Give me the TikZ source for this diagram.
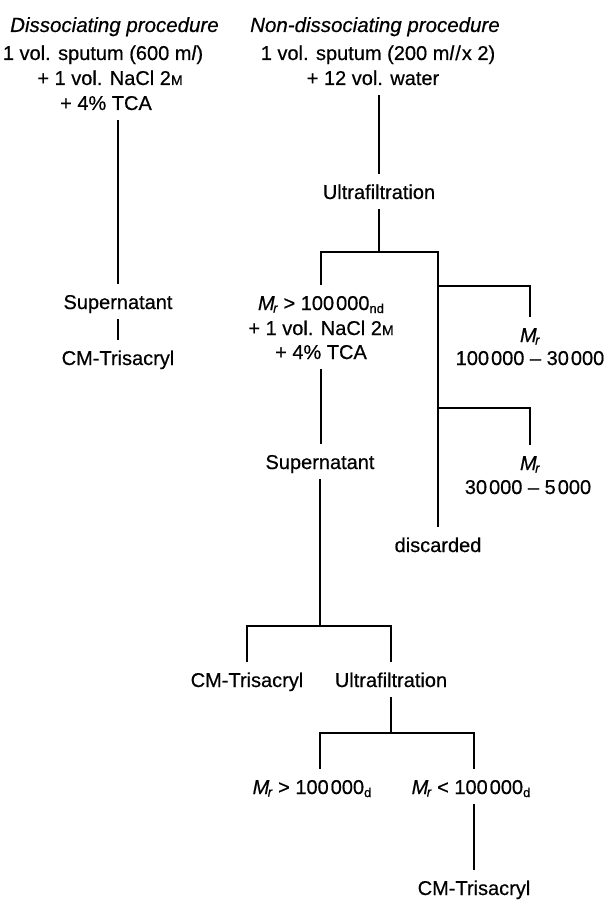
\documentclass[tikz,border=0pt]{standalone}
\usepackage{fontspec}
\setmainfont{Liberation Sans}[FakeBold=0.5]
\newcommand\Mr{\textit{M}\kern-1.5pt\raisebox{-2.5pt}{\fontsize{13}{13}\selectfont\textit{r}}}
\newcommand\lsub[1]{\raisebox{-3pt}{\fontsize{13}{13}\selectfont #1}}
\newcommand\smM{{\fontsize{14}{14}\selectfont M}}
\newcommand\thsp{\kern2pt}
\begin{document}
\begin{tikzpicture}[x=1pt,y=-1pt,
  txt/.style={inner xsep=0pt, inner ysep=10pt, text height=15pt, text depth=0pt, anchor=base, font=\fontsize{20}{24}\selectfont},
  head/.style={inner sep=0pt, anchor=base west, font=\fontsize{20.5}{24}\selectfont\itshape},
  conn/.style={line width=2.3pt, line join=miter}]
\fill[white] (0,0) rectangle (609,901);
\useasboundingbox (0,0) rectangle (609,901);
% headings
\node[head] (h1) at (10,32) {Dissociating procedure};
\node[head] (h2) at (250,32) {Non-dissociating procedure};
% left column
\node[txt] (l1) at (103,60) {1 vol. sputum (600 m\textit{l})};
\node[txt] (l2) at (110,85) {+ 1 vol. NaCl 2\smM};
\node[txt] (l3) at (106,110) {+ 4\% TCA};
\node[txt] (ls) at (118,309) {Supernatant};
\node[txt] (lc) at (118,365) {CM-Trisacryl};
% right column
\node[txt] (r1) at (378,60) {1 vol. sputum (200 m\textit{l}\kern1pt/\kern1pt x 2)};
\node[txt] (r2) at (373,85) {+ 12 vol. water};
\node[txt] (u1) at (379,199) {Ultrafiltration};
\node[txt] (a1) at (321,310) {\Mr\ > 100\thsp000\lsub{nd}};
\node[txt] (a2) at (321,335) {+ 1 vol. NaCl 2\smM};
\node[txt] (a3) at (321,359) {+ 4\% TCA};
\node[txt] (s2) at (320,469) {Supernatant};
\node[txt] (m1) at (530,342) {\Mr};
\node[txt] (n1) at (530,365) {100\thsp000 -- 30\thsp000};
\node[txt] (m2) at (530,470) {\Mr};
\node[txt] (n2) at (528,494) {30\thsp000 -- 5\thsp000};
\node[txt] (disc) at (438,552) {discarded};
\node[txt] (c2) at (247,687) {CM-Trisacryl};
\node[txt] (u2) at (391,687) {Ultrafiltration};
\node[txt] (d1) at (312,794) {\Mr\ > 100\thsp000\lsub{d}};
\node[txt] (d2) at (471,794) {\Mr\ < 100\thsp000\lsub{d}};
\node[txt] (c3) at (474,895) {CM-Trisacryl};
% junctions
\coordinate (j1) at (379,252);
\coordinate (b1) at (438,286);
\coordinate (b2) at (438,408);
\coordinate (j2) at (320,626);
\coordinate (j3) at (391,733);
\coordinate (k1) at (320,733);
\coordinate (k2) at (474,733);
% connectors
\draw[conn] (l3.south -| ls.north) -- (ls.north);
\draw[conn] (ls.south) -- (lc.north);
\draw[conn] (r2.south -| u1.north) -- (u1.north);
\draw[conn] (u1.south) -- (j1);
\draw[conn] (a1.north) |- (disc.north |- j1) -- (disc.north);
\draw[conn] (disc.north |- b1) -| (m1.north);
\draw[conn] (disc.north |- b2) -| (m2.north);
\draw[conn] (a3.south) -- (a3.south |- s2.north);
\draw[conn] (s2.south) -- (j2);
\draw[conn] (c2.north) |- (j2) -| (u2.north);
\draw[conn] (u2.south) -- (j3);
\draw[conn] (k1 |- d1.north) -- (k1) -- (k2) -- (k2 |- d2.north);
\draw[conn] (d2.south -| c3.north) -- (c3.north);
\end{tikzpicture}
\end{document}
